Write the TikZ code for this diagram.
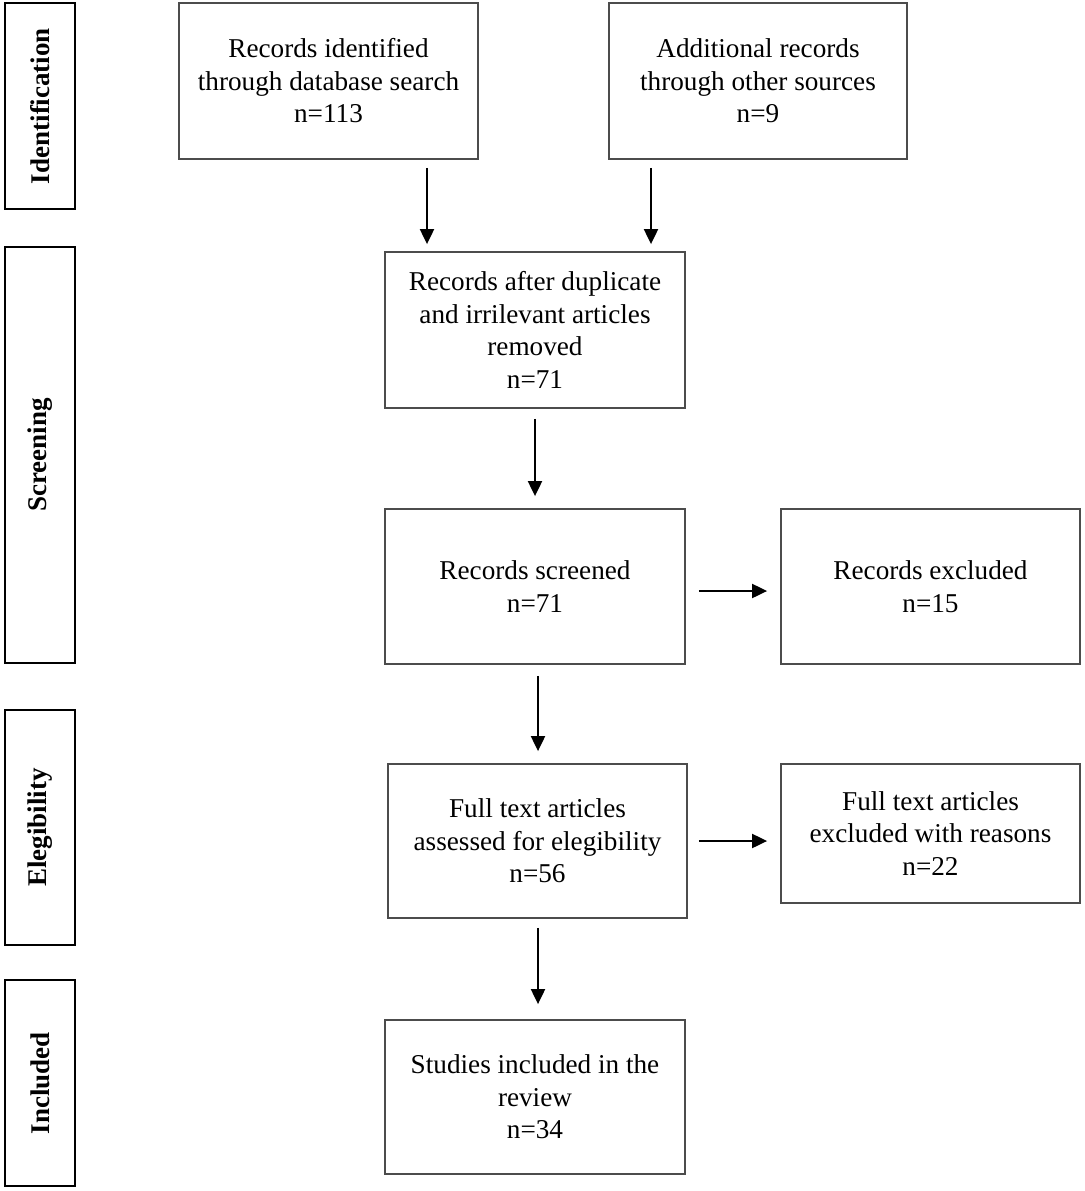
\documentclass[tikz,border=0pt]{standalone}
\usepackage{fontspec}
\setmainfont{Liberation Serif}
\usetikzlibrary{arrows.meta}
\begin{document}
\begin{tikzpicture}[x=1pt,y=-1pt,
  mainbox/.style={draw=black!70,line width=1.8pt,inner sep=0pt,align=center,
    font=\fontsize{27.2}{32.5}\selectfont},
  sidebox/.style={draw=black,line width=2pt,inner sep=0pt,
    minimum width=70pt,font=\fontsize{27}{30}\selectfont\bfseries},
  arr/.style={line width=2pt,-{Triangle[length=15pt,width=14pt]}}]
\useasboundingbox (0,0) rectangle (1084,1191);
% side labels
\node[sidebox,minimum height=206pt] (s1) at (40,106) {\rotatebox{90}{Identification}};
\node[sidebox,minimum height=416pt] (s2) at (40,455) {\rotatebox{90}{Screening}};
\node[sidebox,minimum height=235pt] (s3) at (40,827.5) {\rotatebox{90}{Elegibility}};
\node[sidebox,minimum height=206pt] (s4) at (40,1083) {\rotatebox{90}{Included}};
% main boxes
\node[mainbox,minimum width=299pt,minimum height=156pt] (b1) at (328.5,81)
  {Records identified\\through database search\\n=113};
\node[mainbox,minimum width=298pt,minimum height=156pt] (b2) at (758,81)
  {Additional records\\through other sources\\n=9};
\node[mainbox,minimum width=300pt,minimum height=156pt] (b3) at (535,330)
  {Records after duplicate\\and irrilevant articles\\removed\\n=71};
\node[mainbox,minimum width=300pt,minimum height=155pt] (b4) at (535,586.5)
  {Records screened\\n=71};
\node[mainbox,minimum width=299pt,minimum height=155pt] (b5) at (930.5,586.5)
  {Records excluded\\n=15};
\node[mainbox,minimum width=299pt,minimum height=154pt] (b6) at (537.5,841)
  {Full text articles\\assessed for elegibility\\n=56};
\node[mainbox,minimum width=299pt,minimum height=139pt] (b7) at (930.5,833.5)
  {Full text articles\\excluded with reasons\\n=22};
\node[mainbox,minimum width=300pt,minimum height=154pt] (b8) at (535,1097)
  {Studies included in the\\review\\n=34};
% arrow columns
\coordinate (c1) at (427,0);
\coordinate (c2) at (651,0);
\coordinate (c3) at (535,0);
\coordinate (c4) at (538,0);
\coordinate (r1) at (0,591);
\coordinate (r2) at (0,841);
\draw[arr,shorten <=8pt,shorten >=7pt] (b1.south -| c1) -- (b3.north -| c1);
\draw[arr,shorten <=8pt,shorten >=7pt] (b2.south -| c2) -- (b3.north -| c2);
\draw[arr,shorten <=10pt,shorten >=12pt] (b3.south -| c3) -- (b4.north -| c3);
\draw[arr,shorten <=11pt,shorten >=12pt] (b4.south -| c4) -- (b6.north -| c4);
\draw[arr,shorten <=9pt,shorten >=15pt] (b6.south -| c4) -- (b8.north -| c4);
\draw[arr,shorten <=13pt,shorten >=13pt] (b4.east |- r1) -- (b5.west |- r1);
\draw[arr,shorten <=11pt,shorten >=13pt] (b6.east |- r2) -- (b7.west |- r2);
\end{tikzpicture}
\end{document}
